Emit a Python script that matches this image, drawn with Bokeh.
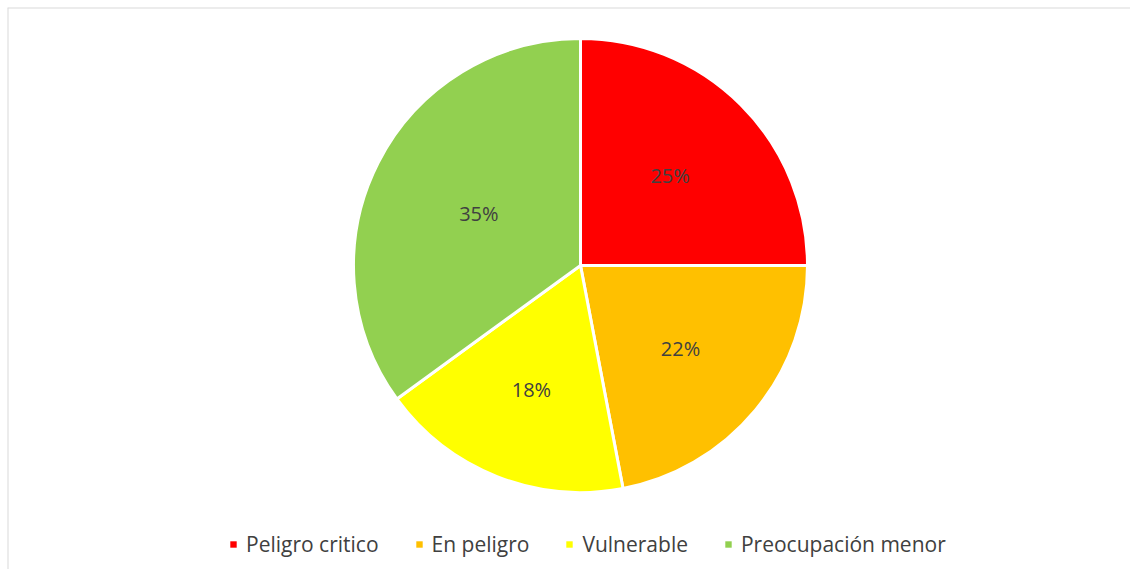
import math
from bokeh.plotting import figure
from bokeh.models import ColumnDataSource, Legend, LegendItem, Range1d, Span
from bokeh.core.properties import value
from bokeh.embed import file_html
from bokeh.resources import INLINE

categories = ["Peligro critico", "En peligro", "Vulnerable", "Preocupación menor"]
shares = [25, 22, 18, 35]
labels = ["25%", "22%", "18%", "35%"]
colors = ["#FF0000", "#FFC000", "#FFFF00", "#92D050"]

W, H = 1130, 569
BL, BT = 7, 7                      # frame offset (chart border at top/left)
FW, FH = W - BL, H - BT
cx, cy, R = 573, 304, 227          # pie centre / radius in frame units

total = float(sum(shares))
starts, ends, mids, thetas = [], [], [], []
a = math.pi / 2
for s in shares:
    span = 2 * math.pi * s / total
    starts.append(a)
    ends.append(a - span)
    mids.append(a - span / 2)
    thetas.append(span)
    a -= span

# label radius: sector centroid distance, pulled in slightly
lab_r = [0.93 * 4 * R * math.sin(t / 2) / (3 * t) for t in thetas]
src = ColumnDataSource(dict(
    start=starts, end=ends, color=colors, cat=categories,
    lx=[cx + r * math.cos(m) for r, m in zip(lab_r, mids)],
    ly=[cy + r * math.sin(m) for r, m in zip(lab_r, mids)],
    lab=labels,
))

p = figure(width=W, height=H, x_range=Range1d(0, FW), y_range=Range1d(0, FH),
           output_backend="svg", toolbar_location=None,
           min_border_left=BL, min_border_top=BT, min_border_right=0,
           min_border_bottom=0)
p.axis.visible = False
p.grid.visible = False
p.outline_line_color = None
p.background_fill_color = "white"
p.border_fill_color = "white"

# chart-area border (only top and left edges are visible in the reference)
p.add_layout(Span(location=0, dimension="height", line_color="#d9d9d9", line_width=2))
p.add_layout(Span(location=FH, dimension="width", line_color="#d9d9d9", line_width=2))

p.wedge(x=cx, y=cy, radius=R, start_angle="end", end_angle="start",
        fill_color="color", line_color="white", line_width=3, source=src)

p.text(x="lx", y="ly", text="lab", source=src, text_align="center",
       text_baseline="middle", text_font=value("Open Sans"),
       text_font_size="20px", text_color="#404040")

items = []
for cat, col in zip(categories, colors):
    r = p.rect(x=[-1000], y=[-1000], width=1, height=1, fill_color=col, line_color=None)
    items.append(LegendItem(label=cat, renderers=[r]))

legend = Legend(items=items, orientation="horizontal", location=(222, 11),
                glyph_width=8, glyph_height=8, label_standoff=9, spacing=36,
                padding=0, margin=0, border_line_alpha=0, background_fill_alpha=0,
                label_text_font="Open Sans", label_text_font_size="21px",
                label_text_color="#404040")
p.add_layout(legend, "center")

open("out.html", "w").write(file_html(p, INLINE))
